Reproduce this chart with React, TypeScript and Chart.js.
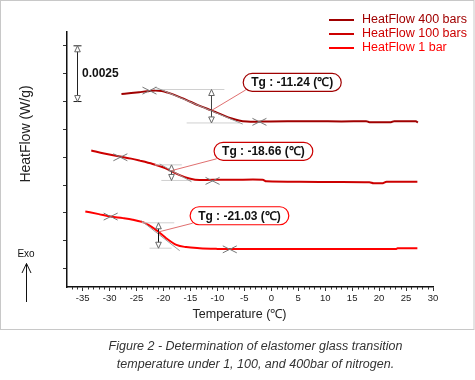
import { useEffect, useRef } from "react";
import { Chart, registerables } from "chart.js";
Chart.register(...registerables);

const FONT = "'Liberation Sans', Arial, sans-serif";

const seriesNames = ["HeatFlow 400 bars", "HeatFlow 100 bars", "HeatFlow 1 bar"];
const seriesColors = ["#a00000", "#cc0000", "#ff0000"];

// Temperature (°C) and heat flow (mW/g, arbitrary offset)
const temp400 = [-27.8, -26.0, -24.5, -23.0, -21.5, -20.3, -19.2, -18.0, -16.5, -15.0, -13.5, -12.0, -10.5, -9.0, -7.5, -6.0, -4.5, -3.0, -1.0, 3.0, 8.0, 13.0, 17.6, 18.2, 22.2, 22.8, 26.8, 27.2];
const flow400 = [7.84, 7.88, 7.92, 7.96, 7.99, 7.97, 7.9, 7.8, 7.65, 7.49, 7.33, 7.19, 7.04, 6.89, 6.75, 6.65, 6.6, 6.59, 6.61, 6.62, 6.62, 6.61, 6.62, 6.57, 6.57, 6.62, 6.62, 6.56];

const temp100 = [-33.4, -31.0, -28.1, -26.0, -24.4, -22.0, -20.1, -18.7, -17.0, -15.2, -13.3, -10.8, -7.1, -3.4, -1.6, -0.9, 5.3, 12.7, 18.2, 19.0, 20.5, 21.4, 27.1];
const flow100 = [5.3, 5.17, 5.03, 4.94, 4.85, 4.7, 4.55, 4.4, 4.2, 4.05, 3.98, 3.99, 3.99, 4.0, 3.99, 3.92, 3.9, 3.89, 3.88, 3.83, 3.83, 3.9, 3.9];

const temp1 = [-34.5, -32.0, -29.8, -27.5, -25.7, -24.0, -23.2, -22.2, -21.0, -19.5, -17.6, -15.8, -13.3, -10.0, -7.7, 0.0, 11.4, 23.2, 23.4, 27.1];
const flow1 = [2.57, 2.45, 2.34, 2.27, 2.2, 2.1, 2.02, 1.88, 1.67, 1.37, 1.07, 0.97, 0.92, 0.89, 0.88, 0.88, 0.88, 0.88, 0.92, 0.92];

const xTickValues = [-35, -30, -25, -20, -15, -10, -5, 0, 5, 10, 15, 20, 25, 30];
const yTickValues = [0, 1.25, 2.5, 3.75, 5, 6.25, 7.5, 8.75, 10];

// Tg annotations (400, 100, 1 bar)
const tgLabels = ["Tg : -11.24 (℃)", "Tg : -18.66 (℃)", "Tg : -21.03 (℃)"];
const tgTemps = [-11.24, -18.66, -21.03];
const tgMidFlow = [7.1, 4.4, 1.65];
const tgUpperFlow = [8.04, 4.66, 2.06];
const tgLowerFlow = [6.54, 3.96, 0.92];
const upperBaseTemps = [[-21.6, -8.7], [-21.6, -16.6], [-24.0, -18.0]];
const lowerBaseTemps = [[-15.7, -5.9], [-20.4, -14.8], [-22.6, -18.5]];
const tangentLines = [[-21.6, 8.15, -5.3, 6.49], [-20.7, 4.7, -14.8, 3.9], [-24.1, 2.15, -17.0, 0.81]];
const onsetMarks = [[-22.6, 7.99], [-28.0, 5.0], [-29.8, 2.34]];
const endMarks = [[-2.2, 6.59], [-10.9, 3.94], [-7.7, 0.87]];
const labelTemps = [-5.3, -10.7, -15.15];
const labelFlows = [8.38, 5.29, 2.4];
const scaleBarTemp = -36.1;
const scaleBarFlows = [10, 7.5];
const scaleBarLabel = "0.0025";

const captionLines = [
  "Figure 2 - Determination of elastomer glass transition",
  "temperature under 1, 100, and 400bar of nitrogen.",
];

function head(ctx: CanvasRenderingContext2D, x: number, y: number, s: number) {
  ctx.beginPath();
  ctx.moveTo(x, y);
  ctx.lineTo(x - 2.8, y + 6 * s);
  ctx.lineTo(x + 2.8, y + 6 * s);
  ctx.closePath();
  ctx.fillStyle = "#fff";
  ctx.fill();
  ctx.stroke();
}

function vArrow(ctx: CanvasRenderingContext2D, x: number, y1: number, y2: number, color: string) {
  ctx.save();
  ctx.strokeStyle = color;
  ctx.lineWidth = 1;
  ctx.beginPath();
  ctx.moveTo(x, y1 + 5);
  ctx.lineTo(x, y2 - 5);
  ctx.stroke();
  ctx.strokeStyle = "#666";
  head(ctx, x, y1, 1);
  head(ctx, x, y2, -1);
  ctx.restore();
}

function roundRect(ctx: CanvasRenderingContext2D, x: number, y: number, w: number, h: number, r: number) {
  ctx.beginPath();
  ctx.moveTo(x + r, y);
  ctx.lineTo(x + w - r, y);
  ctx.arcTo(x + w, y, x + w, y + r, r);
  ctx.lineTo(x + w, y + h - r);
  ctx.arcTo(x + w, y + h, x + w - r, y + h, r);
  ctx.lineTo(x + r, y + h);
  ctx.arcTo(x, y + h, x, y + h - r, r);
  ctx.lineTo(x, y + r);
  ctx.arcTo(x, y, x + r, y, r);
  ctx.closePath();
}

const decorPlugin = {
  id: "decor",
  beforeDraw(chart: any) {
    const ctx = chart.ctx as CanvasRenderingContext2D;
    ctx.save();
    ctx.fillStyle = "#fff";
    ctx.fillRect(0, 0, chart.width, chart.height);
    ctx.strokeStyle = "#c8c8c8";
    ctx.lineWidth = 1;
    ctx.strokeRect(0.5, 0.5, 473.5, 329);
    ctx.restore();
  },
  afterDraw(chart: any) {
    const ctx = chart.ctx as CanvasRenderingContext2D;
    const xs = chart.scales.x;
    const ys = chart.scales.y;
    const px = (t: number) => xs.getPixelForValue(t);
    const py = (v: number) => ys.getPixelForValue(v);
    const area = chart.chartArea;
    ctx.save();

    // minor x ticks
    ctx.strokeStyle = "#333";
    ctx.lineWidth = 1;
    for (let t = -37; t <= 30; t++) {
      if (t % 5 === 0) continue;
      const x = Math.round(px(t)) + 0.5;
      ctx.beginPath();
      ctx.moveTo(x, area.bottom);
      ctx.lineTo(x, area.bottom + 2.5);
      ctx.stroke();
    }

    // axis titles
    ctx.fillStyle = "#222";
    ctx.textAlign = "center";
    ctx.textBaseline = "middle";
    ctx.font = `12.5px ${FONT}`;
    ctx.fillText("Temperature (℃)", 239.5, 315);
    ctx.save();
    ctx.translate(26, 134);
    ctx.rotate(-Math.PI / 2);
    ctx.font = `14px ${FONT}`;
    ctx.fillText("HeatFlow (W/g)", 0, 0);
    ctx.restore();

    // Exo arrow
    ctx.font = `10px ${FONT}`;
    ctx.fillStyle = "#111";
    ctx.fillText("Exo", 26, 254.5);
    ctx.strokeStyle = "#111";
    ctx.lineWidth = 1;
    ctx.beginPath();
    ctx.moveTo(26.5, 263.5);
    ctx.lineTo(26.5, 302);
    ctx.moveTo(22, 273);
    ctx.lineTo(26.5, 263.5);
    ctx.lineTo(31, 273);
    ctx.stroke();

    // legend
    ctx.textAlign = "left";
    ctx.font = `12.5px ${FONT}`;
    seriesNames.forEach((name, i) => {
      const y = 20 + i * 14;
      ctx.strokeStyle = seriesColors[i];
      ctx.lineWidth = 2;
      ctx.beginPath();
      ctx.moveTo(329, y);
      ctx.lineTo(354, y);
      ctx.stroke();
      ctx.fillStyle = seriesColors[i];
      ctx.fillText(name, 362, y);
    });

    // scale bar
    const sbx = Math.round(px(scaleBarTemp)) + 0.5;
    const sy1 = py(scaleBarFlows[0]);
    const sy2 = py(scaleBarFlows[1]);
    ctx.strokeStyle = "#222";
    ctx.lineWidth = 1;
    ctx.beginPath();
    ctx.moveTo(sbx - 4, sy1);
    ctx.lineTo(sbx + 4, sy1);
    ctx.moveTo(sbx - 4, sy2);
    ctx.lineTo(sbx + 4, sy2);
    ctx.stroke();
    vArrow(ctx, sbx, sy1, sy2, "#222");
    ctx.fillStyle = "#111";
    ctx.font = `bold 12px ${FONT}`;
    ctx.fillText(scaleBarLabel, 82, (sy1 + sy2) / 2);

    // Tg annotations
    tgTemps.forEach((tg, i) => {
      const color = seriesColors[i];
      // baselines
      ctx.strokeStyle = "#d0d0d0";
      ctx.lineWidth = 1;
      ctx.beginPath();
      ctx.moveTo(px(upperBaseTemps[i][0]), py(tgUpperFlow[i]));
      ctx.lineTo(px(upperBaseTemps[i][1]), py(tgUpperFlow[i]));
      ctx.moveTo(px(lowerBaseTemps[i][0]), py(tgLowerFlow[i]));
      ctx.lineTo(px(lowerBaseTemps[i][1]), py(tgLowerFlow[i]));
      ctx.stroke();
      // tangent
      const tl = tangentLines[i];
      ctx.strokeStyle = "#999";
      ctx.beginPath();
      ctx.moveTo(px(tl[0]), py(tl[1]));
      ctx.lineTo(px(tl[2]), py(tl[3]));
      ctx.stroke();
      // X markers
      ctx.strokeStyle = "#777";
      [onsetMarks[i], endMarks[i]].forEach((m) => {
        const mx = px(m[0]);
        const my = py(m[1]);
        ctx.beginPath();
        ctx.moveTo(mx - 7, my - 3.5);
        ctx.lineTo(mx + 7, my + 3.5);
        ctx.moveTo(mx - 7, my + 3.5);
        ctx.lineTo(mx + 7, my - 3.5);
        ctx.stroke();
      });
      // arrow
      const ax = Math.round(px(tg)) + 0.5;
      vArrow(ctx, ax, py(tgUpperFlow[i]), py(tgLowerFlow[i]), i === 2 ? "#111" : "#444");
      // label box
      ctx.font = `bold 12px ${FONT}`;
      const tw = ctx.measureText(tgLabels[i]).width;
      const bw = tw + 16;
      const bh = 18;
      const bx = px(labelTemps[i]);
      const by = py(labelFlows[i]) - bh / 2;
      // leader
      ctx.strokeStyle = "#e07070";
      ctx.lineWidth = 1;
      ctx.beginPath();
      ctx.moveTo(ax, py(tgMidFlow[i]));
      ctx.lineTo(bx + 3, by + bh - 1);
      ctx.stroke();
      roundRect(ctx, bx + 0.5, by + 0.5, bw, bh, 9);
      ctx.fillStyle = "#fff";
      ctx.fill();
      ctx.strokeStyle = color;
      ctx.lineWidth = 1.2;
      ctx.stroke();
      ctx.fillStyle = "#111";
      ctx.textAlign = "center";
      ctx.fillText(tgLabels[i], bx + 0.5 + bw / 2, by + bh / 2 + 1);
      ctx.textAlign = "left";
    });

    // caption
    ctx.fillStyle = "#333";
    ctx.textAlign = "center";
    ctx.font = `italic 12.5px ${FONT}`;
    ctx.fillText(captionLines[0], 255.5, 347);
    ctx.fillText(captionLines[1], 255.5, 364.5);

    ctx.restore();
  },
};

function toPoints(xs: number[], ys: number[]) {
  return xs.map((x, i) => ({ x, y: ys[i] }));
}

export default function App() {
  const ref = useRef<HTMLCanvasElement | null>(null);
  useEffect(() => {
    if (!ref.current) return;
    const allData = [
      toPoints(temp400, flow400),
      toPoints(temp100, flow100),
      toPoints(temp1, flow1),
    ];
    const chart = new Chart(ref.current, {
      type: "line",
      data: {
        datasets: allData.map((d, i) => ({
          label: seriesNames[i],
          data: d,
          borderColor: seriesColors[i],
          backgroundColor: seriesColors[i],
          borderWidth: 2,
          pointRadius: 0,
          cubicInterpolationMode: "monotone" as const,
          fill: false,
        })),
      },
      options: {
        animation: false,
        responsive: false,
        devicePixelRatio: 1,
        layout: { padding: { left: 0, top: 32, right: 42, bottom: 0 } },
        plugins: { legend: { display: false }, tooltip: { enabled: false }, title: { display: false } },
        scales: {
          x: {
            type: "linear",
            min: -37.9,
            max: 30,
            afterBuildTicks: (s: any) => {
              s.ticks = xTickValues.map((v) => ({ value: v }));
            },
            afterFit: (s: any) => {
              s.height = 93;
            },
            border: { display: true, color: "#111", width: 1.5 },
            grid: { drawOnChartArea: false, drawTicks: true, tickLength: 4, color: "#333" },
            ticks: {
              autoSkip: false,
              maxRotation: 0,
              padding: 2,
              color: "#222",
              font: { family: FONT, size: 9.5 },
              callback: (v: any) => String(v),
            },
          },
          y: {
            type: "linear",
            min: -0.82,
            max: 10.62,
            afterBuildTicks: (s: any) => {
              s.ticks = yTickValues.map((v) => ({ value: v }));
            },
            afterFit: (s: any) => {
              s.width = 67;
            },
            border: { display: true, color: "#111", width: 1.5 },
            grid: { drawOnChartArea: false, drawTicks: true, tickLength: 4, color: "#333" },
            ticks: { display: false },
          },
        },
      },
      plugins: [decorPlugin],
    });
    return () => chart.destroy();
  }, []);
  return (
    <div style={{ position: "fixed", left: 0, top: 0, width: 475, height: 380 }}>
      <canvas ref={ref} width={475} height={380} style={{ display: "block" }} />
    </div>
  );
}
